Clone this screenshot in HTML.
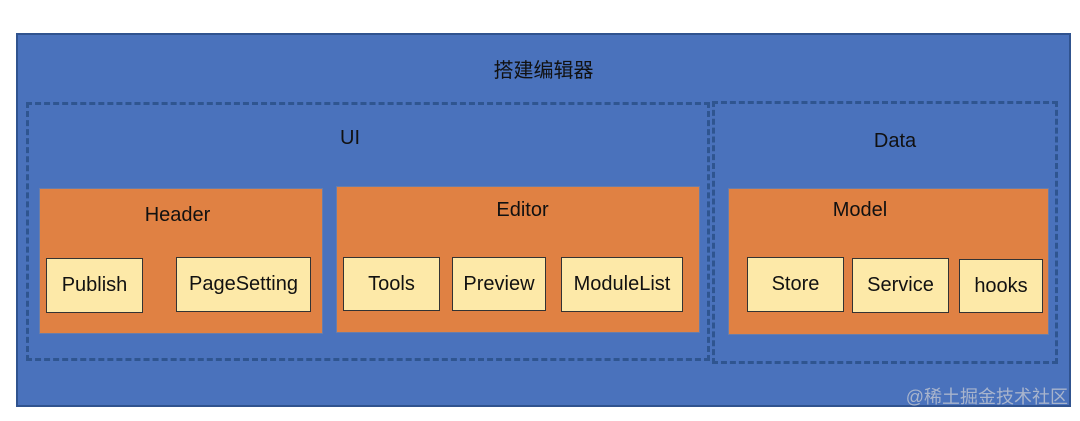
<!DOCTYPE html>
<html><head><meta charset="utf-8"><style>
body{margin:0;width:1080px;height:421px;background:#fff;position:relative;overflow:hidden;font-family:"Liberation Sans","Noto Sans CJK SC",sans-serif;color:#111}
div{position:absolute;box-sizing:border-box}
.main{left:16px;top:33px;width:1055px;height:374px;background:#4a72bc;border:2px solid #30538f}
.dash{border:3px dashed #2f5590}
.org{background:#e08143;border:1px solid #6a7da8}
.y{background:#fde9a8;border:1px solid #333;display:flex;align-items:center;justify-content:center;font-size:20px}
.t{font-size:20px;text-align:center}
</style></head><body>
<div class="main"></div>
<div class="t" style="left:16px;width:1055px;top:54px">搭建编辑器</div>
<div class="dash" style="left:26px;top:102px;width:684px;height:259px"></div>
<div class="dash" style="left:712px;top:101px;width:346px;height:263px"></div>
<div class="t" style="left:320px;width:60px;top:127px">UI</div>
<div class="t" style="left:860px;width:70px;top:130px">Data</div>
<div class="org" style="left:39px;top:188px;width:284px;height:146px"></div>
<div class="t" style="left:120px;width:115px;top:204px">Header</div>
<div class="org" style="left:336px;top:186px;width:364px;height:147px"></div>
<div class="t" style="left:470px;width:105px;top:199px">Editor</div>
<div class="org" style="left:728px;top:188px;width:321px;height:147px"></div>
<div class="t" style="left:810px;width:100px;top:199px">Model</div>
<div class="y" style="left:46px;top:258px;width:97px;height:55px">Publish</div>
<div class="y" style="left:176px;top:257px;width:135px;height:55px">PageSetting</div>
<div class="y" style="left:343px;top:257px;width:97px;height:54px">Tools</div>
<div class="y" style="left:452px;top:257px;width:94px;height:54px">Preview</div>
<div class="y" style="left:561px;top:257px;width:122px;height:55px">ModuleList</div>
<div class="y" style="left:747px;top:257px;width:97px;height:55px">Store</div>
<div class="y" style="left:852px;top:258px;width:97px;height:55px">Service</div>
<div class="y" style="left:959px;top:259px;width:84px;height:54px">hooks</div>
<div style="left:900px;top:383px;width:168px;font-size:18px;color:#a8b4cc;text-align:right">@稀土掘金技术社区</div>
</body></html>
